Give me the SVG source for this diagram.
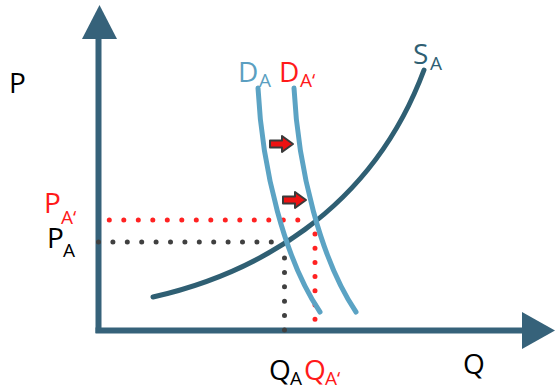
<svg xmlns="http://www.w3.org/2000/svg" width="556" height="392" viewBox="0 0 556 392">
<style>
text{font-family:"Open Sans","Noto Sans",sans-serif}
.big{font-size:28px}
.sub{font-size:19px}
.blk{fill:#000}
.red{fill:#ff1a1a}
.blue{fill:#5b9fc1}
.teal{fill:#2f5f73}
.axis{stroke:#36627a;stroke-width:6;fill:none}
.dot{fill:none;stroke-width:5;stroke-linecap:round}
.sarrow{fill:#ee1111;stroke:#3a3a3a;stroke-width:2;stroke-linejoin:round}
</style>
<rect width="556" height="392" fill="#fff"/>
<g id="axes">
<path class="axis" d="M98.5,333 V37"/>
<polygon points="99.5,5 82,39 117,39" fill="#36627a"/>
<path class="axis" d="M95.5,330.5 H523"/>
<polygon points="555,330.5 522,312 522,349" fill="#36627a"/>
</g>
<g id="connectors">
<path class="dot" stroke="#ff2222" d="M109.3,220 H312" stroke-dasharray="0 14.5"/>
<path class="dot" stroke="#ff2222" d="M315,234 V320" stroke-dasharray="0 14.2"/>
<path class="dot" stroke="#404040" d="M98.5,242 H272" stroke-dasharray="0 14.4"/>
<path class="dot" stroke="#404040" d="M284.5,258 V331" stroke-dasharray="0 14.4"/>
</g>
<g id="supply">
<path d="M153,297 C250,275 370,215 424,70" fill="none" stroke="#2f5f73" stroke-width="5" stroke-linecap="round"/>
<text class="big teal" x="413" y="64">S</text>
<text class="sub teal" x="430" y="70">A</text>
</g>
<g id="demand">
<path d="M258,88 C262,170 285,260 320,312" fill="none" stroke="#5ba3c4" stroke-width="5" stroke-linecap="round"/>
<text class="big blue" x="238" y="82">D</text>
<text class="sub blue" x="259" y="87">A</text>
</g>
<g id="demand2">
<path d="M294,88 C298,170 321,260 356,312" fill="none" stroke="#5ba3c4" stroke-width="5" stroke-linecap="round"/>
<text class="big red" x="279" y="82">D</text>
<text class="sub red" x="300" y="87">A‘</text>
</g>
<g id="shift1">
<polygon class="sarrow" points="270,140.5 282,140.5 282,136 293,144 282,152 282,147.5 270,147.5"/>
</g>
<g id="shift2">
<polygon class="sarrow" points="283,196.5 295,196.5 295,192 306,200 295,208 295,203.5 283,203.5"/>
</g>
<g id="labels">
<text class="big blk" x="9" y="93">P</text>
<text class="big blk" x="463" y="374">Q</text>
<text class="big red" x="44" y="213">P</text>
<text class="sub red" x="61" y="224">A‘</text>
<text class="big blk" x="47" y="248">P</text>
<text class="sub blk" x="63" y="257">A</text>
<text class="big blk" x="269" y="380">Q</text>
<text class="sub blk" x="290" y="385">A</text>
<text class="big red" x="304" y="380">Q</text>
<text class="sub red" x="325" y="385">A‘</text>
</g>
</svg>
